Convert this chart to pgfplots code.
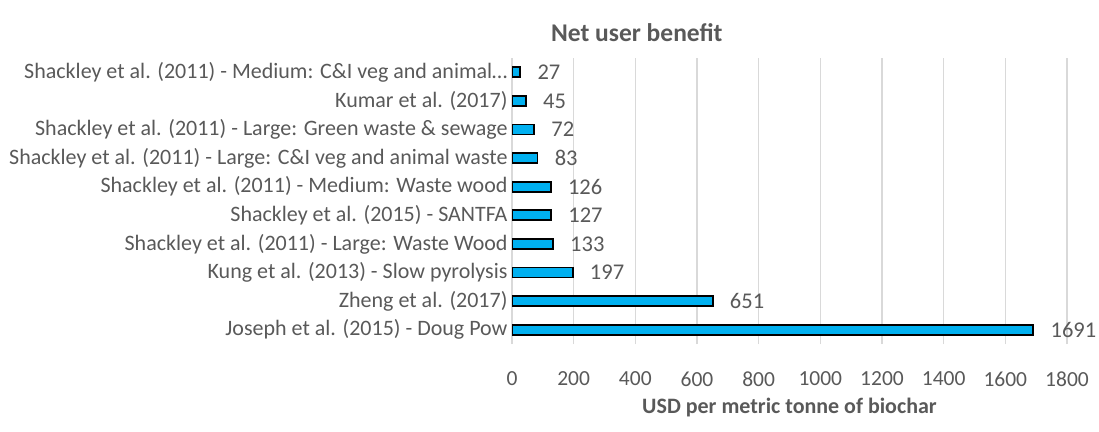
\documentclass[border=0pt]{standalone}
\usepackage{pgfplots}
\pgfplotsset{compat=1.18}
\usepackage{fontspec}
\setmainfont{Carlito}
\definecolor{barblue}{HTML}{00B0F0}
\definecolor{txtgray}{HTML}{595959}
\definecolor{gridgray}{HTML}{D9D9D9}

\begin{document}
\begin{tikzpicture}
\useasboundingbox (0,0) rectangle (1099bp,432bp);
\begin{axis}[
    at={(512bp,88bp)}, anchor=south west,
    scale only axis, width=555bp, height=286bp,
    xbar, bar width=10bp,
    xmin=0, xmax=1800, ymin=-0.5, ymax=9.5,
    xtick={0,200,...,1800},
    ytick={0,...,9},
    yticklabels={
        Joseph et al. (2015) - Doug Pow,
        Zheng et al. (2017),
        Kung et al. (2013) - Slow pyrolysis,
        Shackley et al. (2011) - Large: Waste Wood,
        Shackley et al. (2015) - SANTFA,
        Shackley et al. (2011) - Medium: Waste wood,
        Shackley et al. (2011) - Large: C\&I veg and animal waste,
        Shackley et al. (2011) - Large: Green waste \& sewage,
        Kumar et al. (2017),
        Shackley et al. (2011) - Medium: C\&I veg and animal…},
    axis line style={draw=none},
    major tick length=0pt,
    xmajorgrids, grid style={gridgray, line width=1.2bp},
    /pgf/number format/assume math mode=true,
    /pgf/number format/set thousands separator={},
    xticklabel style={font=\fontsize{21.5bp}{24bp}\selectfont, text=txtgray, yshift=-24bp},
    yticklabel style={font=\fontsize{22bp}{24bp}\selectfont, text=txtgray, xshift=-1bp},
    xlabel={\textbf{USD per metric tonne of biochar}},
    xlabel style={font=\fontsize{22bp}{25bp}\selectfont, text=txtgray, yshift=-5bp},
    title={\textbf{Net user benefit}},
    title style={font=\fontsize{25.5bp}{28bp}\selectfont, text=txtgray,
        at={(rel axis cs:0.225,1)}, anchor=south, yshift=7bp},
    nodes near coords,
    nodes near coords style={font=\fontsize{22.5bp}{25bp}\selectfont, text=txtgray, anchor=west, xshift=13bp},
]
\addplot[fill=barblue, draw=black, line width=1.8bp] coordinates {
    (1691,0) (651,1) (197,2) (133,3) (127,4)
    (126,5) (83,6) (72,7) (45,8) (27,9)};
\end{axis}
\end{tikzpicture}
\end{document}
